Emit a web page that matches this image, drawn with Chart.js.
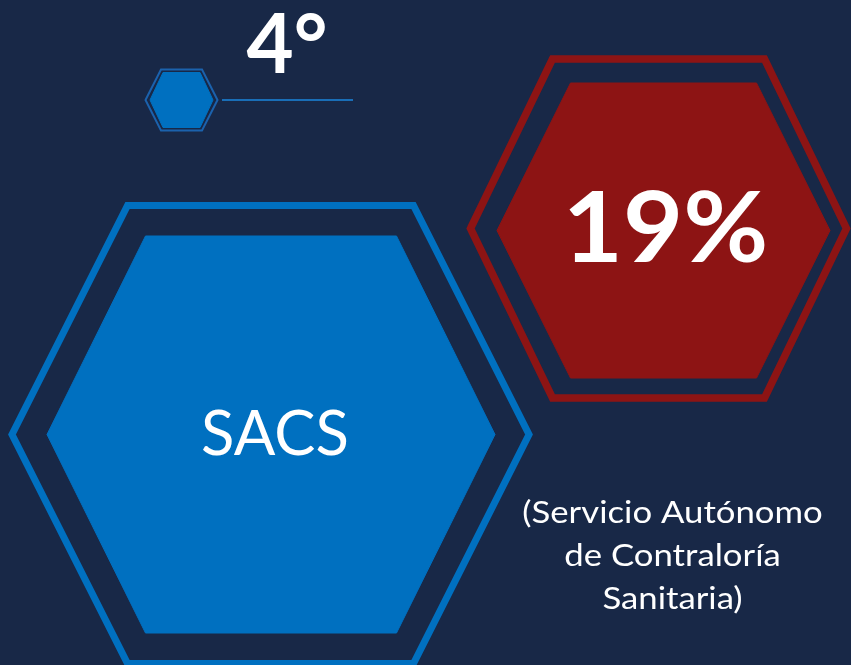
<!DOCTYPE html>
<html>
<head>
<meta charset="utf-8">
<script src="https://cdn.jsdelivr.net/npm/chart.js@4/dist/chart.umd.min.js"></script>
<style>
  html, body { margin: 0; padding: 0; background: #182847; }
  #wrap { width: 851px; height: 665px; position: relative; }
</style>
</head>
<body>
<div id="wrap"><canvas id="c"></canvas></div>
<script>
// ---- content ----
const rankLabel = "4°";
const shareLabel = "19%";
const agencyAcronym = "SACS";
const agencyNameLines = ["(Servicio Autónomo", "de Contraloría", "Sanitaria)"];

// ---- geometry helpers (layout, not data) ----
function hex(cx, cy, W, T, H, closeExtra) {
  const p = [
    {x: cx - W, y: cy}, {x: cx - T, y: cy - H}, {x: cx + T, y: cy - H},
    {x: cx + W, y: cy}, {x: cx + T, y: cy + H}, {x: cx - T, y: cy + H}
  ];
  if (closeExtra) { p.push(p[0], p[1]); } else { p.push(p[0]); }
  return p;
}
const BLUE = '#0070c0', RED = '#8d1414';
function outline(pts, color, w) {
  return { data: pts, showLine: true, fill: false, borderColor: color, borderWidth: w,
           borderJoinStyle: 'miter', pointRadius: 0, tension: 0, clip: false };
}
function filled(pts, color) {
  return { data: pts, showLine: true, fill: 'shape', backgroundColor: color, borderColor: color,
           borderWidth: 1, borderJoinStyle: 'miter', pointRadius: 0, tension: 0, clip: false };
}

const datasets = [
  outline(hex(270.5, 434.5, 258.5, 143, 229, true), BLUE, 7),
  filled(hex(271, 434.5, 224, 125.5, 198.5), BLUE),
  outline(hex(658.5, 228.5, 188, 106, 169.5, true), RED, 7.5),
  filled(hex(663.5, 230.5, 166.5, 93, 147.5), RED),
  outline(hex(181.5, 100, 36, 20.5, 30.5, true), '#1b62ad', 2),
  filled(hex(181.5, 100, 31.5, 18.5, 27.5), BLUE),
  { data: [{x: 222, y: 100}, {x: 353, y: 100}], showLine: true, fill: false,
    borderColor: '#1a86dc', borderWidth: 1.5, pointRadius: 0, clip: false }
];

const textPlugin = {
  id: 'texts',
  afterDatasetsDraw(chart) {
    const ctx = chart.ctx, xs = chart.scales.x, ys = chart.scales.y;
    const put = (t, x, y, font, sx) => {
      ctx.save();
      ctx.font = font;
      ctx.translate(xs.getPixelForValue(x), ys.getPixelForValue(y));
      ctx.scale(sx || 1, 1);
      ctx.fillText(t, 0, 0);
      ctx.restore();
    };
    ctx.save();
    ctx.fillStyle = '#ffffff';
    ctx.textAlign = 'center';
    ctx.textBaseline = 'alphabetic';
    put(rankLabel, 287, 73, 'bold 83px Lato', 0.98);
    put(shareLabel, 665.5, 262, 'bold 97px Lato', 1.07);
    put(agencyAcronym, 275, 455, '61px Lato', 1.01);
    const base = [523, 566, 609];
    agencyNameLines.forEach((l, i) => put(l, 672.5, base[i], '31px Lato', 1.12));
    ctx.restore();
  }
};

new Chart(document.getElementById('c'), {
  type: 'scatter',
  data: { datasets },
  options: {
    responsive: true, maintainAspectRatio: false, animation: false,
    layout: { padding: 0 },
    plugins: { legend: { display: false }, tooltip: { enabled: false } },
    scales: {
      x: { type: 'linear', min: 0, max: 851, display: false },
      y: { type: 'linear', min: 0, max: 665, reverse: true, display: false }
    }
  },
  plugins: [textPlugin]
});
</script>
</body>
</html>
